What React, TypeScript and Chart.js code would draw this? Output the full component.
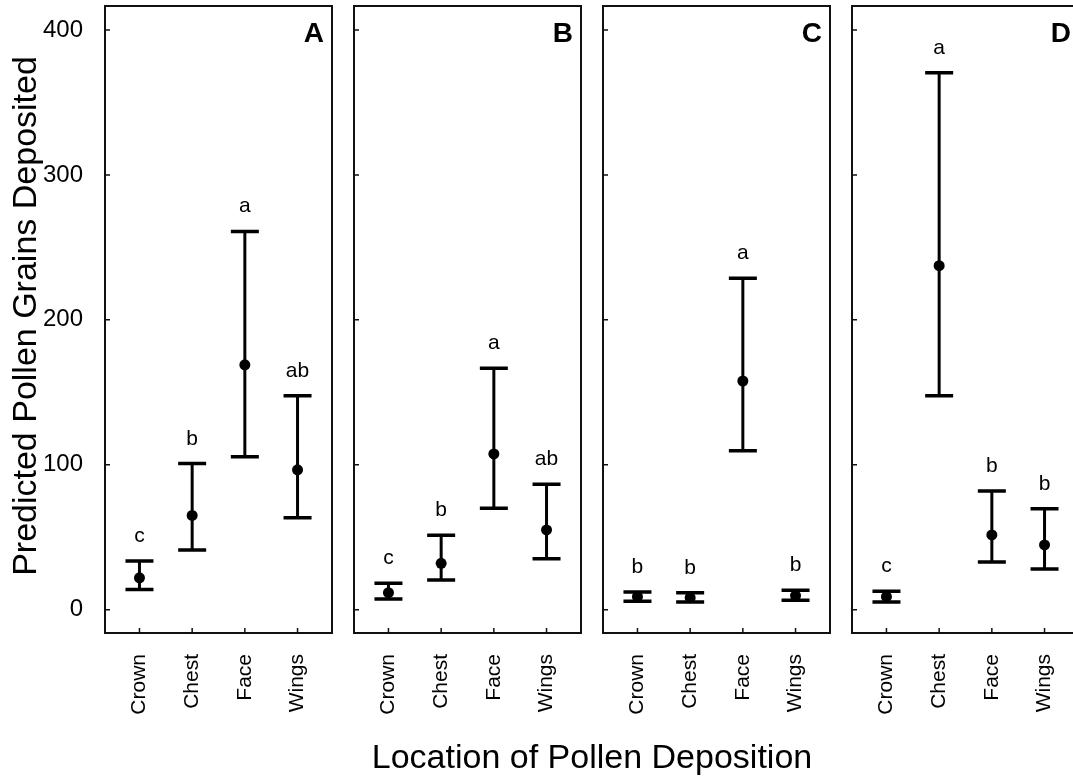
import React, { useEffect, useRef } from 'react';
import { Chart, registerables } from 'chart.js';

Chart.register(...registerables);

const FONT = "'Liberation Sans', Arial, Helvetica, sans-serif";

const categories = ['Crown', 'Chest', 'Face', 'Wings'];
const yTickValues = [0, 100, 200, 300, 400];
const panelLetters = ['A', 'B', 'C', 'D'];
const yAxisTitle = 'Predicted Pollen Grains Deposited';
const xAxisTitle = 'Location of Pollen Deposition';

const meanA = [22, 65, 169, 96.5];
const lowerA = [14, 41.2, 105.6, 63.5];
const upperA = [33.6, 100.8, 261, 147.7];
const lettersA = ['c', 'b', 'a', 'ab'];

const meanB = [11.7, 32, 107.5, 55];
const lowerB = [7.4, 20.5, 70, 35.2];
const upperB = [18.2, 51.3, 166.6, 86.5];
const lettersB = ['c', 'b', 'a', 'ab'];

const meanC = [9, 8.3, 157.8, 9.7];
const lowerC = [5.8, 5.3, 109.7, 6.5];
const upperC = [12.2, 11.7, 228.7, 13.4];
const lettersC = ['b', 'b', 'a', 'b'];

const meanD = [9, 237.4, 51.6, 44.7];
const lowerD = [5.3, 147.7, 32.9, 28.1];
const upperD = [12.7, 370.6, 81.9, 69.7];
const lettersD = ['c', 'a', 'b', 'b'];

const Y_MIN = -16.1;
const Y_MAX = 416.6;
const X_MIN = -0.654;
const X_MAX = 3.654;

type PanelProps = {
  index: number;
  mean: number[];
  lower: number[];
  upper: number[];
  letters: string[];
  canvasLeft: number;
  canvasWidth: number;
  showY: boolean;
};

function Panel({ index, mean, lower, upper, letters, canvasLeft, canvasWidth, showY }: PanelProps) {
  const ref = useRef<HTMLCanvasElement | null>(null);

  useEffect(() => {
    if (!ref.current) return;
    const overlay = {
      id: 'panelOverlay',
      beforeDatasetsDraw(chart: any) {
        const { ctx, scales } = chart;
        const xs = scales.x;
        const ys = scales.y;
        ctx.save();
        ctx.strokeStyle = '#000';
        ctx.lineCap = 'butt';
        for (let i = 0; i < mean.length; i++) {
          const px = xs.getPixelForValue(i);
          const yl = ys.getPixelForValue(lower[i]);
          const yu = ys.getPixelForValue(upper[i]);
          ctx.lineWidth = 3;
          ctx.beginPath();
          ctx.moveTo(px, yl);
          ctx.lineTo(px, yu);
          ctx.stroke();
          ctx.lineWidth = 3.5;
          ctx.beginPath();
          ctx.moveTo(px - 14, yl);
          ctx.lineTo(px + 14, yl);
          ctx.moveTo(px - 14, yu);
          ctx.lineTo(px + 14, yu);
          ctx.stroke();
        }
        ctx.restore();
      },
      afterDraw(chart: any) {
        const { ctx, chartArea, scales } = chart;
        const xs = scales.x;
        const ys = scales.y;
        const { left, right, top, bottom } = chartArea;
        ctx.save();
        // letters above the error bars
        ctx.fillStyle = '#000';
        ctx.font = `21px ${FONT}`;
        ctx.textAlign = 'center';
        ctx.textBaseline = 'alphabetic';
        for (let i = 0; i < letters.length; i++) {
          ctx.fillText(letters[i], xs.getPixelForValue(i), ys.getPixelForValue(upper[i]) - 19);
        }
        // panel letter
        ctx.font = `bold 28px ${FONT}`;
        ctx.textAlign = 'right';
        ctx.fillText(panelLetters[index], right - 8, top + 36);
        // frame
        ctx.strokeStyle = '#111';
        ctx.lineWidth = 2;
        ctx.strokeRect(left, top, right - left, bottom - top);
        // inward ticks
        ctx.lineWidth = 1.5;
        ctx.beginPath();
        for (const v of yTickValues) {
          const py = ys.getPixelForValue(v);
          ctx.moveTo(left, py);
          ctx.lineTo(left + 5, py);
        }
        for (let i = 0; i < categories.length; i++) {
          const px = xs.getPixelForValue(i);
          ctx.moveTo(px, bottom);
          ctx.lineTo(px, bottom - 5);
        }
        ctx.stroke();
        // y axis title (first panel only)
        if (showY) {
          ctx.font = `34px ${FONT}`;
          ctx.textAlign = 'center';
          ctx.textBaseline = 'alphabetic';
          ctx.translate(36, 316);
          ctx.rotate(-Math.PI / 2);
          ctx.fillText(yAxisTitle, 0, 0);
        }
        ctx.restore();
      },
    };

    const chart = new Chart(ref.current, {
      type: 'scatter',
      data: {
        datasets: [
          {
            data: mean.map((v, i) => ({ x: i, y: v })),
            pointRadius: 5.5,
            pointHoverRadius: 5.5,
            pointBackgroundColor: '#000',
            pointBorderWidth: 0,
            showLine: false,
          },
        ],
      },
      options: {
        responsive: false,
        animation: false,
        devicePixelRatio: 1,
        events: [],
        layout: { padding: { top: 6, right: 8, bottom: 0, left: showY ? 0 : 14 } },
        plugins: { legend: { display: false }, tooltip: { enabled: false } },
        scales: {
          x: {
            type: 'linear',
            min: X_MIN,
            max: X_MAX,
            grid: { display: false, drawTicks: false },
            border: { display: false },
            afterBuildTicks: (s: any) => {
              s.ticks = categories.map((_, i) => ({ value: i }));
            },
            afterFit: (s: any) => {
              s.height = 143;
              s.paddingLeft = 0;
              s.paddingRight = 0;
            },
            ticks: {
              autoSkip: false,
              minRotation: 90,
              maxRotation: 90,
              padding: 21,
              color: '#000',
              font: { family: FONT, size: 21 },
              callback: (v: any) => categories[Math.round(Number(v))],
            },
          },
          y: {
            type: 'linear',
            display: showY,
            min: Y_MIN,
            max: Y_MAX,
            grid: { display: false, drawTicks: false },
            border: { display: false },
            afterBuildTicks: (s: any) => {
              s.ticks = yTickValues.map((v) => ({ value: v }));
            },
            afterFit: (s: any) => {
              s.width = showY ? 105 : 0;
              s.paddingTop = 0;
              s.paddingBottom = 0;
            },
            ticks: {
              padding: 22,
              color: '#000',
              font: { family: FONT, size: 24 },
              callback: (v: any) => String(v),
            },
          },
        },
      },
      plugins: [overlay],
    } as any);
    return () => chart.destroy();
  }, []);

  return (
    <canvas
      ref={ref}
      width={canvasWidth}
      height={776}
      style={{ position: 'absolute', left: canvasLeft, top: 0, display: 'block' }}
    />
  );
}

export default function App() {
  const panels = [
    { mean: meanA, lower: lowerA, upper: upperA, letters: lettersA, canvasLeft: 0, canvasWidth: 340, showY: true },
    { mean: meanB, lower: lowerB, upper: upperB, letters: lettersB, canvasLeft: 340, canvasWidth: 249, showY: false },
    { mean: meanC, lower: lowerC, upper: upperC, letters: lettersC, canvasLeft: 589, canvasWidth: 249, showY: false },
    { mean: meanD, lower: lowerD, upper: upperD, letters: lettersD, canvasLeft: 838, canvasWidth: 249, showY: false },
  ];
  return (
    <div
      style={{
        position: 'fixed',
        left: 0,
        top: 0,
        width: 1073,
        height: 776,
        overflow: 'hidden',
        background: '#fff',
      }}
    >
      {panels.map((p, i) => (
        <Panel key={i} index={i} {...p} />
      ))}
      <div
        style={{
          position: 'absolute',
          left: 0,
          width: 1184,
          top: 739,
          textAlign: 'center',
          fontFamily: FONT,
          fontSize: 34,
          lineHeight: '34px',
          color: '#000',
          whiteSpace: 'nowrap',
        }}
      >
        {xAxisTitle}
      </div>
    </div>
  );
}
